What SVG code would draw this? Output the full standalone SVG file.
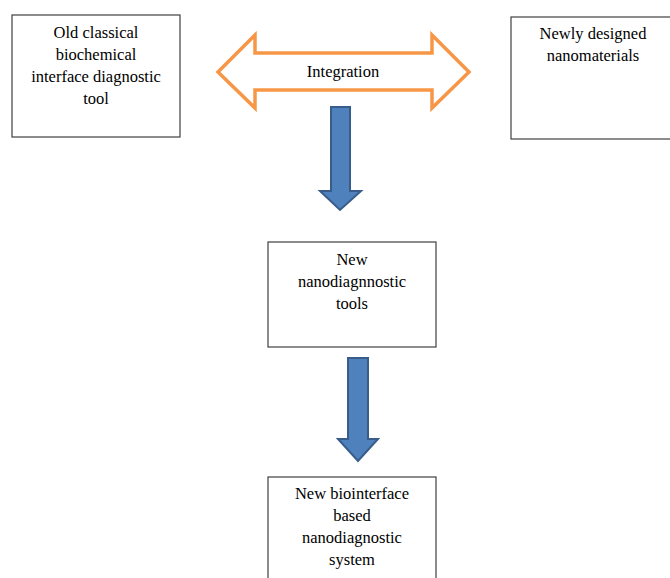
<svg xmlns="http://www.w3.org/2000/svg" width="670" height="578" viewBox="0 0 670 578">
<style>
.box{fill:#fff;stroke:#404040;stroke-width:1.2}
.t{font-family:'Liberation Serif','DejaVu Serif',serif;font-size:16.5px;fill:#000;text-anchor:middle}
.dbl{fill:#fff;stroke:#F79646;stroke-width:3.5;stroke-linejoin:miter}
.down{fill:#4F81BD;stroke:#385D8A;stroke-width:2}
</style>
<rect width="670" height="578" fill="#fff"/>
<g id="connectors">
<g id="integration">
<path class="dbl" d="M218,72 L255,35 L255,53 L432,53 L432,35 L469,72 L432,108 L432,90 L255,90 L255,108 Z"/>
<text class="t" x="343" y="77">Integration</text>
</g>
<path class="down" d="M331,107 L350,107 L350,191 L361,191 L340,210 L320,191 L331,191 Z"/>
<path class="down" d="M348,358 L368,358 L368,439 L378,439 L358,461 L338,439 L348,439 Z"/>
</g>
<g id="old-tool">
<rect class="box" x="12" y="15" width="168" height="122"/>
<text class="t"><tspan x="96" y="38">Old classical</tspan><tspan x="96" y="60">biochemical</tspan><tspan x="96" y="82">interface diagnostic</tspan><tspan x="96" y="104">tool</tspan></text>
</g>
<g id="nanomaterials">
<rect class="box" x="511" y="17" width="170" height="122"/>
<text class="t"><tspan x="593" y="39">Newly designed</tspan><tspan x="593" y="61">nanomaterials</tspan></text>
</g>
<g id="nano-tools">
<rect class="box" x="268" y="242" width="168" height="105"/>
<text class="t"><tspan x="352" y="265">New</tspan><tspan x="352" y="287">nanodiagnnostic</tspan><tspan x="352" y="309">tools</tspan></text>
</g>
<g id="nano-system">
<rect class="box" x="268" y="477" width="168" height="110"/>
<text class="t"><tspan x="352" y="499">New biointerface</tspan><tspan x="352" y="521">based</tspan><tspan x="352" y="543">nanodiagnostic</tspan><tspan x="352" y="565">system</tspan></text>
</g>
</svg>
